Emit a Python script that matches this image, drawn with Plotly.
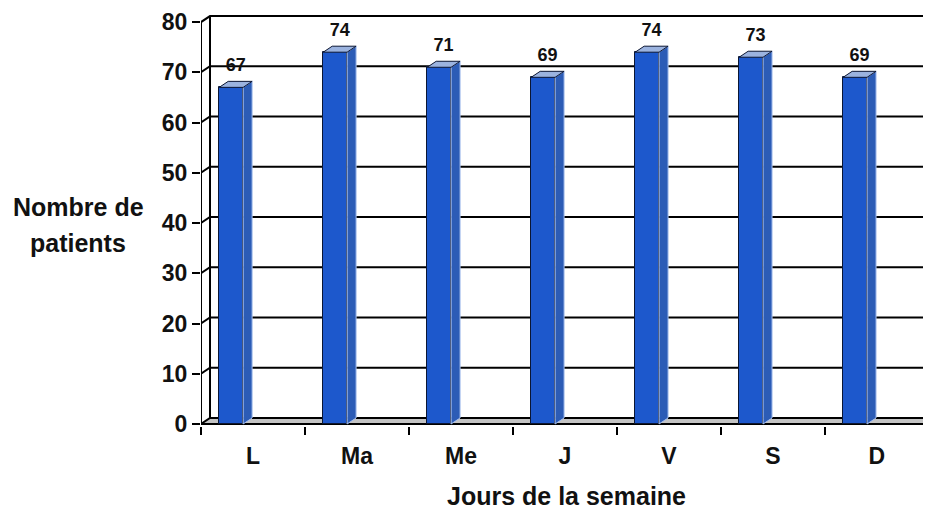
import plotly.graph_objects as go

# ---- data ----
days = ["L", "Ma", "Me", "J", "V", "S", "D"]
patients = [67, 74, 71, 69, 74, 73, 69]
y_ticks = [0, 10, 20, 30, 40, 50, 60, 70, 80]

# ---- geometry ----
# the page body adds an 8px margin, so the figure is laid out 8px smaller
OFF = 8
W, H = 931 - OFF, 511 - OFF
ML, MT, MB = 201 - OFF, 12 - OFF, 85
XMAX = 7.02
YMIN, YMAX = -0.4, 82.0
PW, PH = W - ML, H - MT - MB
px_x = PW / XMAX
px_y = PH / (YMAX - YMIN)
DX = 9 / px_x          # 3D depth offset, x
DY = 6 / px_y          # 3D depth offset, y
BAR_W = 0.23
BAR_SHIFT = 0.29


def paper_x(ref_px):
    return (ref_px - OFF - ML) / PW


def paper_y(ref_px):
    return (H - MB - (ref_px - OFF)) / PH


FRONT = "#1d58cc"
SIDE = "#2c5cb6"
TOP = "#9bb3df"
EDGE = "#0b1633"
FONT = "Liberation Sans, Arial, sans-serif"
TXT = "#111111"

n = len(days)
centers = [i + BAR_SHIFT for i in range(n)]

fig = go.Figure()

# front faces
fig.add_trace(go.Bar(
    x=centers, y=patients, width=BAR_W,
    marker=dict(color=FRONT, line=dict(color=EDGE, width=1)),
    hoverinfo="skip", showlegend=False,
))

# side faces
sx, sy = [], []
for c, v in zip(centers, patients):
    x1 = c + BAR_W / 2
    sx += [x1, x1 + DX, x1 + DX, x1, x1, None]
    sy += [0, DY, v + DY, v, 0, None]
fig.add_trace(go.Scatter(
    x=sx, y=sy, mode="lines", fill="toself", fillcolor=SIDE,
    line=dict(color="#a9c1ee", width=1), hoverinfo="skip", showlegend=False,
))
# top faces
tx, ty = [], []
for c, v in zip(centers, patients):
    x0 = c - BAR_W / 2
    x1 = c + BAR_W / 2
    tx += [x0, x0 + DX, x1 + DX, x1, x0, None]
    ty += [v, v + DY, v + DY, v, v, None]
fig.add_trace(go.Scatter(
    x=tx, y=ty, mode="lines", fill="toself", fillcolor=TOP,
    line=dict(color=EDGE, width=1), hoverinfo="skip", showlegend=False,
))

# value labels
fig.add_trace(go.Scatter(
    x=[c + DX / 2 for c in centers], y=[v + DY + 1.2 for v in patients],
    mode="text", text=[f"<b>{v}</b>" for v in patients], textposition="top center",
    textfont=dict(family=FONT, size=18, color=TXT),
    hoverinfo="skip", showlegend=False, cliponaxis=False,
))

# invisible trace on the tick axis (category boundaries)
fig.add_trace(go.Scatter(
    x=[0, XMAX], y=[0, 0], xaxis="x2", mode="markers",
    marker=dict(opacity=0), hoverinfo="skip", showlegend=False,
))

# ---- walls, floor, gridlines ----
shapes = []
shapes.append(dict(type="path", xref="x", yref="y", layer="below",
                   path=f"M 0 0 L {XMAX} 0 L {XMAX} {DY} L {DX} {DY} Z",
                   fillcolor="#c4c4c4", line=dict(color="black", width=2)))
for v in y_ticks[1:]:
    shapes.append(dict(type="path", xref="x", yref="y", layer="below",
                       path=f"M 0 {v} L {DX} {v + DY} L {XMAX} {v + DY}",
                       line=dict(color="black", width=2)))
shapes.append(dict(type="line", xref="x", yref="y", layer="below",
                   x0=DX, y0=DY, x1=DX, y1=y_ticks[-1] + DY,
                   line=dict(color="black", width=2)))
shapes.append(dict(type="line", xref="x", yref="y", layer="above",
                   x0=0, y0=0, x1=0, y1=y_ticks[-1],
                   line=dict(color="black", width=2)))
shapes.append(dict(type="line", xref="x", yref="y", layer="below",
                   x0=0, y0=0, x1=XMAX, y1=0,
                   line=dict(color="black", width=2)))

annotations = [
    dict(text="<b>Nombre de</b>", x=paper_x(78), y=paper_y(207),
         xref="paper", yref="paper", xanchor="center", yanchor="middle",
         showarrow=False, font=dict(family=FONT, size=25, color=TXT)),
    dict(text="<b>patients</b>", x=paper_x(78), y=paper_y(243),
         xref="paper", yref="paper", xanchor="center", yanchor="middle",
         showarrow=False, font=dict(family=FONT, size=25, color=TXT)),
    dict(text="<b>Jours de la semaine</b>", x=paper_x(566), y=paper_y(496),
         xref="paper", yref="paper", xanchor="center", yanchor="middle",
         showarrow=False, font=dict(family=FONT, size=25, color=TXT)),
]

fig.update_layout(
    width=W, height=H,
    margin=dict(l=ML, r=0, t=MT, b=MB, pad=0),
    paper_bgcolor="white", plot_bgcolor="white",
    bargap=0,
    showlegend=False,
    shapes=shapes,
    annotations=annotations,
    xaxis=dict(
        range=[0, XMAX], tickmode="array",
        tickvals=[i + 0.5 for i in range(n)], ticktext=[f"<b>{d}</b>" for d in days],
        ticks="outside", ticklen=9, tickcolor="rgba(0,0,0,0)",
        showgrid=False, zeroline=False, showline=False,
        tickfont=dict(family=FONT, size=23, color=TXT),
        fixedrange=True,
    ),
    xaxis2=dict(
        range=[0, XMAX], overlaying="x", side="bottom", anchor="y",
        tickmode="array", tickvals=list(range(n + 1)),
        showticklabels=False, ticks="outside", ticklen=8, tickwidth=2,
        tickcolor="black", showgrid=False, zeroline=False, showline=False,
    ),
    yaxis=dict(
        range=[YMIN, YMAX], tickmode="array", tickvals=y_ticks,
        ticktext=[f"<b>{t}</b>" for t in y_ticks],
        ticks="outside", ticklen=8, tickwidth=2, tickcolor="black",
        showgrid=False, zeroline=False, showline=False,
        tickfont=dict(family=FONT, size=23, color=TXT),
    ),
)

fig.write_html("out.html")
